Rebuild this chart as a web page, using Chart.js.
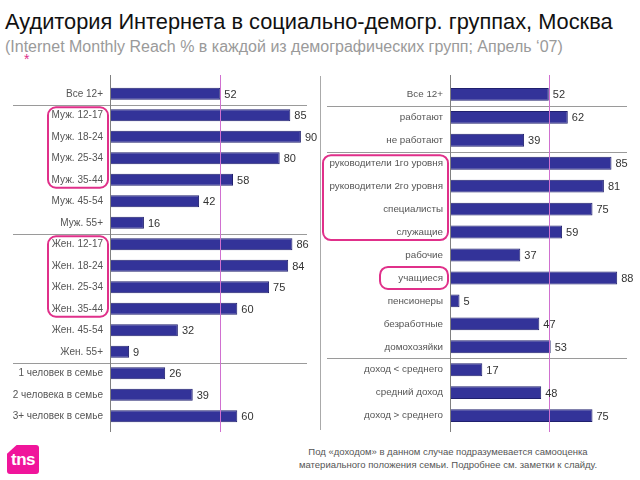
<!DOCTYPE html>
<html>
<head>
<meta charset="utf-8">
<script src="https://cdn.jsdelivr.net/npm/chart.js@4/dist/chart.umd.min.js"></script>
<style>
  body { margin: 0; width: 640px; height: 480px; background: #fff; position: relative; overflow: hidden; font-family: "Liberation Sans", Arial, sans-serif; }
  #title { position: absolute; left: 5px; top: 9px; font-size: 21.8px; color: #111; white-space: nowrap; }
  #subtitle { position: absolute; left: 5px; top: 38px; font-size: 16px; color: #9a9a9a; white-space: nowrap; }
  #star { position: absolute; left: 24px; top: 51px; font-size: 14px; color: #e0308a; }
  canvas { position: absolute; }
  #note { position: absolute; left: 248px; width: 400px; top: 445px; font-size: 9.5px; line-height: 13px; color: #555; text-align: center; }
  #logo { position: absolute; left: 7px; top: 445px; width: 32px; height: 29px; background: #f0159b;
          clip-path: polygon(30% 0, 100% 0, 100% 100%, 0 100%, 0 30%); border-radius: 3px; overflow: hidden; }
  #logo span { position: absolute; left: 4px; top: 5px; color: #fff; font-weight: bold; font-size: 17px; letter-spacing: -0.5px; }
</style>
</head>
<body>
<div id="title">Аудитория Интернета в социально-демогр. группах, Москва</div>
<div id="subtitle">(Internet Monthly Reach % в каждой из демографических групп; Апрель ‘07)</div>
<div id="star">*</div>
<canvas id="left" width="320" height="370" style="left:0;top:70px"></canvas>
<canvas id="right" width="320" height="370" style="left:320px;top:70px"></canvas>
<div id="logo"><span>tns</span></div>
<div id="note">Под «доходом» в данном случае подразумевается самооценка<br>материального положения семьи. Подробнее см. заметки к слайду.</div>
<script>
// данные
const leftLabels = ['Все 12+', 'Муж. 12-17', 'Муж. 18-24', 'Муж. 25-34', 'Муж. 35-44', 'Муж. 45-54', 'Муж. 55+',
  'Жен. 12-17', 'Жен. 18-24', 'Жен. 25-34', 'Жен. 35-44', 'Жен. 45-54', 'Жен. 55+',
  '1 человек в семье', '2 человека в семье', '3+ человек в семье'];
const leftValues = [52, 85, 90, 80, 58, 42, 16, 86, 84, 75, 60, 32, 9, 26, 39, 60];

const rightLabels = ['Все 12+', 'работают', 'не работают', 'руководители 1го уровня', 'руководители 2го уровня',
  'специалисты', 'служащие', 'рабочие', 'учащиеся', 'пенсионеры', 'безработные', 'домохозяйки',
  'доход < среднего', 'средний доход', 'доход > среднего'];
const rightValues = [52, 62, 39, 85, 81, 75, 59, 37, 88, 5, 47, 53, 17, 48, 75];

const refValue = 52; // все 12+

// линии, рамки и подписи значений
const decor = {
  id: 'decor',
  afterDatasetsDraw(chart, args, opts) {
    const ctx = chart.ctx;
    const x = chart.scales.x, y = chart.scales.y;
    const area = chart.chartArea;
    ctx.save();

    // разделители групп
    ctx.strokeStyle = '#9a9a9a';
    ctx.lineWidth = 1;
    opts.separators.forEach(i => {
      const yy = Math.round((y.getPixelForValue(i) + y.getPixelForValue(i + 1)) / 2) + 0.5;
      ctx.beginPath();
      ctx.moveTo(opts.sepFrom, yy);
      ctx.lineTo(opts.sepTo, yy);
      ctx.stroke();
    });

    // ось
    ctx.strokeStyle = '#808080';
    ctx.beginPath();
    ctx.moveTo(Math.round(area.left) + 0.5, 5);
    ctx.lineTo(Math.round(area.left) + 0.5, 362);
    ctx.stroke();
    if (opts.leftBorder) {
      ctx.strokeStyle = '#aaaaaa';
      ctx.beginPath();
      ctx.moveTo(0.5, 6);
      ctx.lineTo(0.5, 360);
      ctx.stroke();
    }

    // линия среднего
    const rx = Math.round(x.getPixelForValue(refValue)) + 0.5;
    ctx.strokeStyle = '#d070d0';
    ctx.beginPath();
    ctx.moveTo(rx, 5);
    ctx.lineTo(rx, 362);
    ctx.stroke();

    // значения
    const data = chart.data.datasets[0].data;
    ctx.fillStyle = '#333';
    ctx.font = '11px "Liberation Sans", Arial, sans-serif';
    ctx.textBaseline = 'middle';
    data.forEach((v, i) => {
      ctx.fillText(String(v), x.getPixelForValue(v) + 4, y.getPixelForValue(i) + 1);
    });

    // розовые рамки
    ctx.strokeStyle = '#e0308a';
    ctx.lineWidth = 2;
    opts.boxes.forEach(b => {
      const top = y.getPixelForValue(b.from) - b.pad;
      const bot = y.getPixelForValue(b.to) + b.pad;
      ctx.beginPath();
      ctx.roundRect(b.x0, top, b.x1 - b.x0, bot - top, 8);
      ctx.stroke();
    });
    ctx.restore();
  }
};

function makeChart(id, labels, values, axisWidth, xMax, pad, fontSize, decorOpts) {
  return new Chart(document.getElementById(id), {
    type: 'bar',
    data: {
      labels: labels,
      datasets: [{
        data: values,
        backgroundColor: '#333399',
        borderColor: '#20206e',
        borderWidth: 1,
        barPercentage: 0.56,
        categoryPercentage: 1
      }]
    },
    options: {
      indexAxis: 'y',
      responsive: false,
      animation: false,
      layout: { padding: pad },
      plugins: { legend: { display: false }, tooltip: { enabled: false }, decor: decorOpts },
      scales: {
        x: { display: false, min: 0, max: xMax },
        y: {
          grid: { display: false, drawTicks: false },
          border: { display: false },
          afterFit: s => { s.width = axisWidth; },
          ticks: {
            padding: 7,
            color: '#555',
            font: { family: '"Liberation Sans", Arial, sans-serif', size: fontSize }
          }
        }
      }
    },
    plugins: [decor]
  });
}

makeChart('left', leftLabels, leftValues, 110, 99, { top: 10, bottom: 11, left: 0, right: 0 }, 10, {
  separators: [0, 6, 12],
  sepFrom: 13, sepTo: 307,
  leftBorder: false,
  boxes: [
    { from: 1, to: 4, x0: 48, x1: 108, pad: 8 },
    { from: 7, to: 10, x0: 48, x1: 108, pad: 8 }
  ]
});

makeChart('right', rightLabels, rightValues, 130, 100, { top: 9, bottom: 11, left: 0, right: 0 }, 9.8, {
  separators: [0, 2, 11],
  sepFrom: 7, sepTo: 307,
  leftBorder: true,
  boxes: [
    { from: 3, to: 6, x0: 3, x1: 128, pad: 8 },
    { from: 8, to: 8, x0: 60, x1: 128, pad: 11 }
  ]
});
</script>
</body>
</html>
